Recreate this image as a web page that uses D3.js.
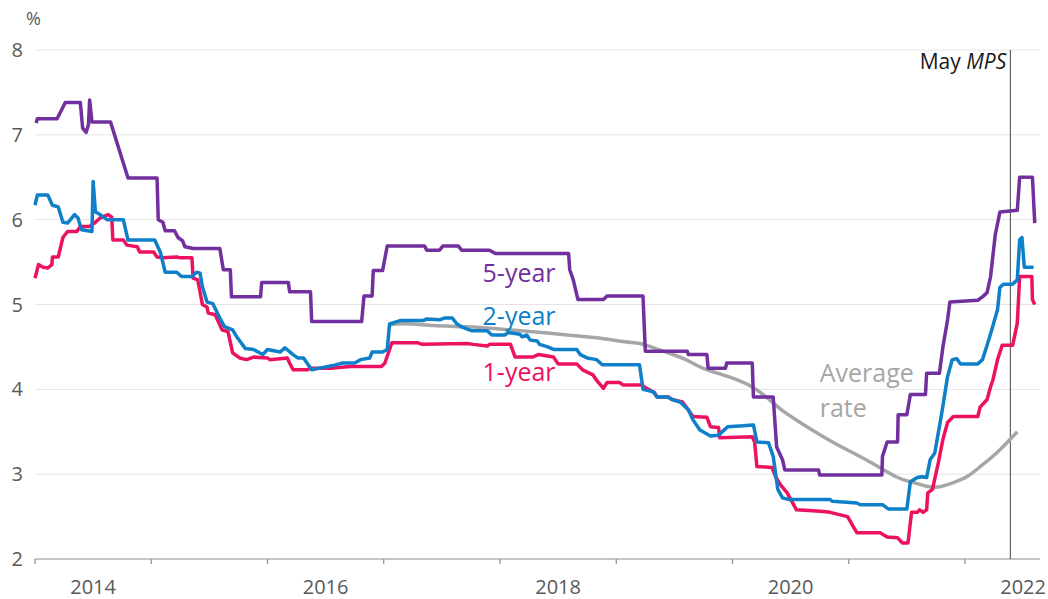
<!DOCTYPE html>
<html><head>
<meta charset="utf-8">
<script src="https://d3js.org/d3.v7.min.js"></script>
<style>
  body { margin: 0; background: #fff; }
  text { font-family: "Open Sans", "Noto Sans", sans-serif; }
  .grid line { stroke: #e4e4e4; stroke-width: 1px; }
  .tick-label { fill: #595959; font-size: 20px; }
</style>
</head>
<body>
<svg id="chart" width="1048" height="599"></svg>
<script>
// [decimal year, rate %]
const fiveYear = [
  [2014.01,7.14],[2014.02,7.19],[2014.19,7.19],[2014.26,7.38],[2014.39,7.38],[2014.41,7.08],[2014.44,7.03],
  [2014.46,7.12],[2014.47,7.41],[2014.49,7.15],[2014.65,7.15],[2014.80,6.49],[2015.05,6.49],[2015.06,6.00],
  [2015.10,5.97],[2015.12,5.87],[2015.20,5.87],[2015.23,5.79],[2015.27,5.75],[2015.29,5.68],[2015.36,5.66],
  [2015.59,5.66],[2015.62,5.41],[2015.68,5.41],[2015.69,5.09],[2015.94,5.09],[2015.95,5.26],[2016.18,5.26],
  [2016.19,5.15],[2016.37,5.15],[2016.38,4.80],[2016.81,4.80],[2016.83,5.10],[2016.90,5.10],[2016.91,5.40],
  [2016.99,5.40],[2017.03,5.69],[2017.35,5.69],[2017.37,5.64],[2017.48,5.64],[2017.51,5.69],[2017.64,5.69],
  [2017.67,5.64],[2017.91,5.64],[2017.96,5.60],[2018.59,5.60],[2018.60,5.41],[2018.63,5.29],[2018.67,5.06],
  [2018.89,5.06],[2018.92,5.10],[2019.23,5.10],[2019.25,4.45],[2019.61,4.45],[2019.62,4.41],[2019.78,4.41],
  [2019.79,4.25],[2019.94,4.25],[2019.95,4.31],[2020.17,4.31],[2020.18,3.91],[2020.35,3.91],[2020.38,3.32],
  [2020.43,3.17],[2020.45,3.05],[2020.74,3.05],[2020.75,2.99],[2021.285,2.99],[2021.29,3.21],[2021.33,3.38],
  [2021.42,3.38],[2021.425,3.70],[2021.50,3.70],[2021.53,3.94],[2021.66,3.94],[2021.67,4.19],[2021.78,4.19],
  [2021.81,4.50],[2021.85,4.82],[2021.87,5.03],[2022.11,5.05],[2022.15,5.09],[2022.19,5.14],[2022.22,5.33],
  [2022.26,5.82],[2022.30,6.09],[2022.45,6.11],[2022.47,6.50],[2022.58,6.50],[2022.60,5.96]
];
const twoYear = [
  [2014.00,6.17],[2014.02,6.29],[2014.11,6.29],[2014.15,6.17],[2014.20,6.15],[2014.24,5.97],[2014.28,5.96],
  [2014.34,6.06],[2014.37,6.02],[2014.40,5.88],[2014.49,5.86],[2014.50,6.45],[2014.52,6.09],[2014.56,6.06],
  [2014.62,6.00],[2014.76,6.00],[2014.80,5.76],[2015.03,5.76],[2015.08,5.61],[2015.12,5.38],[2015.22,5.38],
  [2015.26,5.33],[2015.35,5.33],[2015.39,5.38],[2015.42,5.37],[2015.44,5.21],[2015.48,5.03],[2015.53,5.01],
  [2015.59,4.84],[2015.63,4.74],[2015.70,4.70],[2015.74,4.61],[2015.81,4.48],[2015.88,4.47],[2015.96,4.41],
  [2016.00,4.47],[2016.11,4.44],[2016.15,4.49],[2016.22,4.41],[2016.26,4.37],[2016.31,4.37],[2016.38,4.23],
  [2016.45,4.25],[2016.56,4.28],[2016.65,4.31],[2016.75,4.31],[2016.80,4.35],[2016.88,4.37],[2016.90,4.44],
  [2016.99,4.44],[2017.03,4.47],[2017.05,4.77],[2017.14,4.81],[2017.34,4.81],[2017.37,4.83],[2017.48,4.82],
  [2017.52,4.84],[2017.59,4.84],[2017.63,4.77],[2017.68,4.73],[2017.76,4.69],[2017.89,4.69],[2017.93,4.64],
  [2018.04,4.64],[2018.07,4.67],[2018.17,4.65],[2018.19,4.62],[2018.23,4.64],[2018.26,4.58],[2018.32,4.57],
  [2018.34,4.53],[2018.41,4.50],[2018.46,4.47],[2018.66,4.47],[2018.69,4.41],[2018.75,4.37],[2018.83,4.35],
  [2018.88,4.29],[2019.20,4.29],[2019.23,4.00],[2019.32,3.97],[2019.35,3.91],[2019.44,3.91],[2019.48,3.88],
  [2019.55,3.85],[2019.62,3.76],[2019.66,3.64],[2019.72,3.52],[2019.81,3.45],[2019.88,3.46],[2019.96,3.56],
  [2020.09,3.57],[2020.18,3.58],[2020.21,3.38],[2020.31,3.37],[2020.35,3.21],[2020.39,2.82],[2020.43,2.72],
  [2020.49,2.70],[2020.84,2.70],[2020.86,2.68],[2021.07,2.66],[2021.10,2.64],[2021.29,2.64],[2021.34,2.59],
  [2021.50,2.59],[2021.53,2.91],[2021.59,2.96],[2021.63,2.97],[2021.67,2.96],[2021.70,3.17],[2021.74,3.25],
  [2021.80,3.72],[2021.85,4.15],[2021.89,4.35],[2021.93,4.36],[2021.96,4.30],[2022.11,4.30],[2022.15,4.35],
  [2022.19,4.52],[2022.23,4.70],[2022.28,4.94],[2022.30,5.20],[2022.33,5.24],[2022.41,5.24],[2022.45,5.29],
  [2022.47,5.76],[2022.49,5.79],[2022.51,5.44],[2022.59,5.44]
];
const oneYear = [
  [2014.00,5.31],[2014.03,5.47],[2014.07,5.44],[2014.11,5.43],[2014.145,5.47],[2014.15,5.56],[2014.20,5.56],
  [2014.24,5.79],[2014.28,5.86],[2014.36,5.86],[2014.39,5.92],[2014.47,5.92],[2014.52,5.97],[2014.56,6.02],
  [2014.63,6.06],[2014.66,6.03],[2014.67,5.76],[2014.76,5.76],[2014.79,5.70],[2014.88,5.68],[2014.90,5.62],
  [2015.02,5.62],[2015.05,5.56],[2015.10,5.55],[2015.22,5.56],[2015.25,5.55],[2015.35,5.55],[2015.36,5.31],
  [2015.40,5.29],[2015.44,5.00],[2015.48,4.97],[2015.49,4.90],[2015.55,4.88],[2015.61,4.70],[2015.66,4.68],
  [2015.70,4.43],[2015.76,4.37],[2015.82,4.35],[2015.88,4.38],[2016.00,4.37],[2016.02,4.35],[2016.17,4.37],
  [2016.19,4.31],[2016.22,4.23],[2016.34,4.23],[2016.37,4.25],[2016.56,4.25],[2016.71,4.27],[2016.98,4.27],
  [2017.01,4.31],[2017.07,4.55],[2017.29,4.55],[2017.33,4.53],[2017.72,4.54],[2017.77,4.53],[2017.89,4.51],
  [2017.91,4.53],[2018.09,4.53],[2018.13,4.38],[2018.28,4.38],[2018.33,4.41],[2018.46,4.38],[2018.50,4.30],
  [2018.66,4.30],[2018.71,4.23],[2018.80,4.17],[2018.84,4.09],[2018.89,4.01],[2018.92,4.08],[2019.03,4.08],
  [2019.06,4.05],[2019.22,4.05],[2019.25,4.02],[2019.33,3.96],[2019.35,3.91],[2019.45,3.91],[2019.48,3.88],
  [2019.57,3.85],[2019.62,3.76],[2019.66,3.68],[2019.78,3.67],[2019.81,3.56],[2019.88,3.55],[2019.89,3.43],
  [2020.17,3.44],[2020.19,3.38],[2020.21,3.09],[2020.34,3.08],[2020.37,2.97],[2020.41,2.88],[2020.47,2.78],
  [2020.55,2.58],[2020.69,2.57],[2020.78,2.56],[2020.84,2.55],[2020.99,2.50],[2021.04,2.38],[2021.07,2.31],
  [2021.27,2.31],[2021.33,2.26],[2021.42,2.25],[2021.46,2.19],[2021.51,2.19],[2021.54,2.55],[2021.59,2.55],
  [2021.61,2.58],[2021.64,2.55],[2021.67,2.58],[2021.68,2.78],[2021.72,2.82],[2021.77,3.13],[2021.81,3.41],
  [2021.85,3.61],[2021.90,3.68],[2022.11,3.68],[2022.13,3.79],[2022.19,3.88],[2022.22,4.03],[2022.24,4.11],
  [2022.28,4.35],[2022.32,4.52],[2022.41,4.52],[2022.45,4.78],[2022.47,5.33],[2022.575,5.33],[2022.58,5.06],
  [2022.60,5.00]
];
const avgRate = [
  [2017.05,4.76],[2017.17,4.78],[2017.42,4.75],[2017.72,4.74],[2018.00,4.71],[2018.28,4.68],[2018.58,4.64],
  [2018.86,4.61],[2019.09,4.55],[2019.20,4.55],[2019.32,4.49],[2019.49,4.41],[2019.61,4.35],[2019.72,4.25],
  [2020.00,4.14],[2020.18,4.03],[2020.30,3.90],[2020.43,3.74],[2020.58,3.61],[2020.86,3.37],[2021.16,3.17],
  [2021.44,2.93],[2021.55,2.91],[2021.67,2.85],[2021.78,2.84],[2021.90,2.90],[2022.02,2.96],[2022.13,3.09],
  [2022.28,3.25],[2022.45,3.50]
];
const yTicks = [2, 3, 4, 5, 6, 7, 8];
const yearTicks = [2014, 2015, 2016, 2017, 2018, 2019, 2020, 2021, 2022];
const yearLabels = [2014, 2016, 2018, 2020, 2022];
const mpsDate = 2022.39;

const svg = d3.select("#chart");
const x = d3.scaleLinear().domain([2014, 2022]).range([35, 965]);
const y = d3.scaleLinear().domain([2, 8]).range([559, 50]);
const xEnd = 1040;

// grid
svg.append("g").attr("class", "grid").selectAll("line")
   .data(yTicks.filter(d => d > 2)).join("line")
   .attr("x1", 35).attr("x2", xEnd)
   .attr("y1", d => y(d)).attr("y2", d => y(d));

// y labels
svg.selectAll("text.ylab").data(yTicks).join("text")
   .attr("class", "ylab tick-label")
   .attr("x", 23).attr("y", d => y(d) + 7)
   .attr("text-anchor", "end")
   .text(d => d);
svg.append("text").attr("class", "tick-label")
   .attr("x", 26).attr("y", 25).style("font-size", "18px").attr("fill", "#444").text("%");

// x axis
svg.append("line").attr("x1", 35).attr("x2", xEnd)
   .attr("y1", y(2)).attr("y2", y(2))
   .attr("stroke", "#8c8c8c").attr("stroke-width", 1.2);
svg.selectAll("line.xtick").data(yearTicks).join("line")
   .attr("class", "xtick")
   .attr("x1", d => x(d)).attr("x2", d => x(d))
   .attr("y1", y(2)).attr("y2", y(2) + 5)
   .attr("stroke", "#8c8c8c").attr("stroke-width", 1.2);
svg.selectAll("text.xlab").data(yearLabels).join("text")
   .attr("class", "xlab tick-label")
   .attr("x", d => x(d + 0.5)).attr("y", 594)
   .attr("text-anchor", "middle")
   .text(d => d);

// MPS marker
svg.append("line")
   .attr("x1", x(mpsDate)).attr("x2", x(mpsDate))
   .attr("y1", y(8)).attr("y2", y(2))
   .attr("stroke", "#444").attr("stroke-width", 1);
const mps = svg.append("text")
   .attr("x", x(mpsDate) - 4).attr("y", 69)
   .attr("text-anchor", "end")
   .style("font-size", "21px").attr("fill", "#1a1a1a");
mps.append("tspan").text("May ");
mps.append("tspan").style("font-style", "italic").text("MPS");

// lines
const line = d3.line().x(d => x(d[0])).y(d => y(d[1]));
const smooth = d3.line().x(d => x(d[0])).y(d => y(d[1])).curve(d3.curveBasis);

svg.append("path").datum(avgRate).attr("d", smooth)
   .attr("fill", "none").attr("stroke", "#a6a6a6").attr("stroke-width", 3.5);

const series = [
  {data: oneYear, color: "#ec1261"},
  {data: twoYear, color: "#0d80c9"},
  {data: fiveYear, color: "#722f9e"}
];
series.forEach(s => {
  svg.append("path").datum(s.data).attr("d", line)
     .attr("fill", "none").attr("stroke", s.color)
     .attr("stroke-width", 3.5).attr("stroke-linejoin", "round");
});

// direct labels
const labels = [
  {t: "5-year", x: 2017.85, y: 5.27, c: "#722f9e"},
  {t: "2-year", x: 2017.85, y: 4.76, c: "#0d80c9"},
  {t: "1-year", x: 2017.85, y: 4.10, c: "#ec1261"},
  {t: "Average", x: 2020.75, y: 4.09, c: "#a6a6a6"},
  {t: "rate", x: 2020.75, y: 3.67, c: "#a6a6a6"}
];
svg.selectAll("text.slab").data(labels).join("text")
   .attr("class", "slab")
   .attr("x", d => x(d.x)).attr("y", d => y(d.y))
   .attr("fill", d => d.c).style("font-size", "25px")
   .text(d => d.t);
</script>
</body>
</html>
